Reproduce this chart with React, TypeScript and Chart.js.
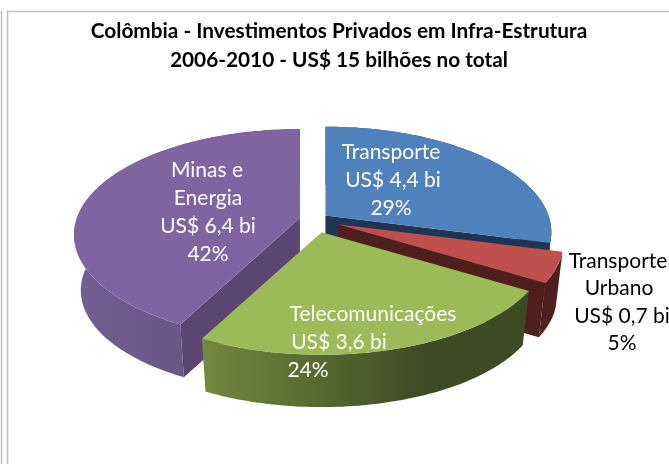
import React, { useEffect, useRef } from "react";
import { Chart, registerables } from "chart.js";

Chart.register(...registerables);

const categories = ["Transporte", "Transporte Urbano", "Telecomunicações", "Minas e Energia"];
const values = [4.4, 0.7, 3.6, 6.4];
const percents = ["29%", "5%", "24%", "42%"];
const amounts = ["US$ 4,4 bi", "US$ 0,7 bi", "US$ 3,6 bi", "US$ 6,4 bi"];
const titleLines = ["Colômbia - Investimentos Privados em Infra-Estrutura", "2006-2010 - US$ 15 bilhões no total"];
const explode = [6.5, 11.5, 12.5, 6.5];
const topColors = ["#4F81BD", "#C0504D", "#9BBB59", "#8064A2"];
const cutColors = ["#1F3552", "#4F1F1E", "#3E4A23", "#5B4572"];
const rimStart = ["#3A5F8E", "#4F1F1E", "#72893F", "#745E92"];
const rimEnd = ["#1F3552", "#4F1F1E", "#3E4A23", "#614C7B"];
const drawOrder = [3, 0, 1, 2];

// Projection of the pie plane on the screen
const CX = 314, CY = 219.5, A = 223, B = 103, K = 0.16, DEPTH = 56, BOTTOM = 0.97;
const proj = (u: number, v: number, s = 1) => {
  const w = 1 - K * v;
  return { x: (s * A * u) / w, y: (s * B * v) / w };
};

const FONT = "Lato";

const labelBlocks: { lines: string[]; xs: number[]; ys: number[]; color: string }[] = [
  { lines: ["Transporte", amounts[0], percents[0]], xs: [391, 393, 391], ys: [152, 180, 208], color: "#FFFFFF" },
  { lines: ["Transporte", "Urbano", amounts[1], percents[1]], xs: [618, 619, 622, 622], ys: [261, 288, 316, 343], color: "#000000" },
  { lines: ["Telecomunicações", amounts[2], percents[2]], xs: [373, 339, 308], ys: [314, 342, 370], color: "#FFFFFF" },
  { lines: ["Minas e", "Energia", amounts[3], percents[3]], xs: [207, 208, 208, 208], ys: [170, 198, 226, 254], color: "#FFFFFF" },
];

const pie3d = {
  id: "pie3d",
  beforeDatasetsDraw(chart: any) {
    const ctx: CanvasRenderingContext2D = chart.ctx;
    const arcs = chart.getDatasetMeta(0).data;
    for (const i of drawOrder) {
      const el = arcs[i];
      const a = el.startAngle + Math.PI / 2;
      const b = el.endAngle + Math.PI / 2;
      const mid = (a + b) / 2;
      const e = el.options.offset / 100;
      const c = proj(e * Math.sin(mid), -e * Math.cos(mid));
      const vx = CX + c.x, vy = CY + c.y;
      const top = (t: number) => {
        const p = proj(Math.sin(t), -Math.cos(t));
        return { x: vx + p.x, y: vy + p.y };
      };
      const bot = (t: number) => {
        const p = proj(Math.sin(t), -Math.cos(t), BOTTOM);
        return { x: vx + p.x, y: vy + p.y + DEPTH };
      };
      const n = Math.max(4, Math.ceil((b - a) / 0.02));
      const angles: number[] = [];
      for (let k = 0; k <= n; k++) angles.push(a + ((b - a) * k) / n);

      // outer wall
      const xsAll = angles.map((t) => top(t).x);
      const grad = ctx.createLinearGradient(Math.min(...xsAll), 0, Math.min(...xsAll) + 225, 0);
      grad.addColorStop(0, rimStart[i]);
      grad.addColorStop(1, rimEnd[i]);
      ctx.beginPath();
      angles.forEach((t, k) => {
        const p = top(t);
        k ? ctx.lineTo(p.x, p.y) : ctx.moveTo(p.x, p.y);
      });
      [...angles].reverse().forEach((t) => {
        const p = bot(t);
        ctx.lineTo(p.x, p.y);
      });
      ctx.closePath();
      ctx.fillStyle = grad;
      ctx.fill();

      // cut faces that look towards the viewer
      const faces: number[] = [];
      if (-Math.sin(a) > 0.01) faces.push(a);
      if (Math.sin(b) > 0.01) faces.push(b);
      for (const t of faces) {
        const p = top(t), q = bot(t);
        ctx.beginPath();
        ctx.moveTo(vx, vy);
        ctx.lineTo(p.x, p.y);
        ctx.lineTo(q.x, q.y);
        ctx.lineTo(vx, vy + DEPTH);
        ctx.closePath();
        ctx.fillStyle = cutColors[i];
        ctx.fill();
      }

      // top surface
      ctx.beginPath();
      ctx.moveTo(vx, vy);
      angles.forEach((t) => {
        const p = top(t);
        ctx.lineTo(p.x, p.y);
      });
      ctx.closePath();
      ctx.fillStyle = el.options.backgroundColor;
      ctx.fill();
    }
    return false;
  },
  afterDraw(chart: any) {
    const ctx: CanvasRenderingContext2D = chart.ctx;
    ctx.save();
    ctx.font = `21px ${FONT}`;
    ctx.textAlign = "center";
    ctx.textBaseline = "middle";
    for (const block of labelBlocks) {
      ctx.fillStyle = block.color;
      block.lines.forEach((line, k) => ctx.fillText(line, block.xs[k], block.ys[k]));
    }
    // chart-area frame
    ctx.strokeStyle = "#BDBDBD";
    ctx.lineWidth = 1.5;
    ctx.beginPath();
    ctx.moveTo(1.5, 11);
    ctx.lineTo(1.5, 464);
    ctx.moveTo(7.5, 464);
    ctx.lineTo(7.5, 11.5);
    ctx.lineTo(669, 11.5);
    ctx.stroke();
    ctx.font = `bold 20.8px ${FONT}`;
    ctx.fillStyle = "#000000";
    titleLines.forEach((line, k) => ctx.fillText(line, 339, 31 + k * 29));
    ctx.restore();
  },
};

export default function App() {
  const ref = useRef<HTMLCanvasElement | null>(null);
  useEffect(() => {
    const chart = new Chart(ref.current as HTMLCanvasElement, {
      type: "pie",
      data: {
        labels: categories,
        datasets: [{ data: values, backgroundColor: topColors, offset: explode, borderWidth: 0 }],
      },
      options: {
        responsive: false,
        animation: false,
        plugins: { legend: { display: false }, title: { display: false }, tooltip: { enabled: false } },
      },
      plugins: [pie3d],
    } as any);
    return () => chart.destroy();
  }, []);
  return (
    <div style={{ position: "fixed", left: 0, top: 0, width: 669, height: 464, background: "#fff" }}>
      <canvas ref={ref} width={669} height={464} style={{ display: "block" }} />
    </div>
  );
}
